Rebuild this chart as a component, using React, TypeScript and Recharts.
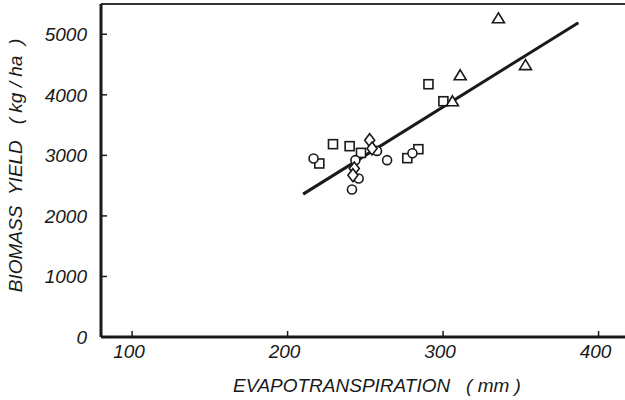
import React from 'react';
import { ScatterChart, Scatter, XAxis, YAxis, ReferenceLine, Label } from 'recharts';

const triangles = [
  { x: 335.6, y: 5264 },
  { x: 311, y: 4323 },
  { x: 353, y: 4490 },
  { x: 306, y: 3894 },
];
const squares = [
  { x: 290.6, y: 4175 },
  { x: 300.2, y: 3894 },
  { x: 229.2, y: 3185 },
  { x: 239.9, y: 3152 },
  { x: 220.4, y: 2866 },
  { x: 247.2, y: 3041 },
  { x: 277, y: 2954 },
  { x: 284.1, y: 3102 },
];
const circles = [
  { x: 216.7, y: 2949 },
  { x: 257.5, y: 3074 },
  { x: 243.6, y: 2921 },
  { x: 264, y: 2921 },
  { x: 245.7, y: 2619 },
  { x: 241.4, y: 2437 },
  { x: 280.3, y: 3036 },
];
const diamonds = [
  { x: 252.8, y: 3251 },
  { x: 254.3, y: 3113 },
  { x: 242.9, y: 2784 },
  { x: 242, y: 2673 },
];
const regression = [
  { x: 210, y: 2360 },
  { x: 387, y: 5190 },
];
const xTicks = [100, 200, 300, 400];
const yTicks = [0, 1000, 2000, 3000, 4000, 5000];

const NB = '\u00A0';
const xTitle = `EVAPOTRANSPIRATION${NB}${NB}${NB}(${NB}mm${NB})`;
const yTitle = `BIOMASS${NB}${NB}YIELD${NB}${NB}${NB}(${NB}kg${NB}/${NB}ha${NB}${NB})`;

const FONT = '"Liberation Sans", Arial, sans-serif';
const INK = '#1a1a1a';

const Tri = (p: any) => (
  <polygon
    points={`${p.cx},${p.cy - 5.5} ${p.cx - 6},${p.cy + 4.5} ${p.cx + 6},${p.cy + 4.5}`}
    fill="#fff" stroke={INK} strokeWidth={1.6}
  />
);
const Sq = (p: any) => (
  <rect x={p.cx - 4.5} y={p.cy - 4.5} width={9} height={9} fill="#fff" stroke={INK} strokeWidth={1.6} />
);
const Circ = (p: any) => (
  <circle cx={p.cx} cy={p.cy} r={4.5} fill="#fff" stroke={INK} strokeWidth={1.6} />
);
const Dia = (p: any) => (
  <polygon
    points={`${p.cx},${p.cy - 6.5} ${p.cx + 5},${p.cy} ${p.cx},${p.cy + 6.5} ${p.cx - 5},${p.cy}`}
    fill="#fff" stroke={INK} strokeWidth={1.6}
  />
);

const XTick = (props: any) => {
  const { x, y, payload } = props;
  return (
    <g>
      <line x1={x} x2={x} y1={y} y2={y - 6} stroke={INK} strokeWidth={1.5} />
      <text x={x - 3} y={y + 21} textAnchor="middle" fontFamily={FONT} fontStyle="italic" fontSize={19} fill={INK}>
        {payload.value}
      </text>
    </g>
  );
};
const YTick = (props: any) => {
  const { x, y, payload } = props;
  return (
    <g>
      <line x1={x} x2={x + 6} y1={y} y2={y} stroke={INK} strokeWidth={1.5} />
      <text x={x - 14} y={y + 7} textAnchor="end" fontFamily={FONT} fontStyle="italic" fontSize={19} fill={INK}>
        {payload.value}
      </text>
    </g>
  );
};

export default function App() {
  return (
    <div style={{ position: 'absolute', left: 0, top: 0, background: '#fff' }}>
      <ScatterChart width={625} height={400} margin={{ top: 4, right: 0, bottom: 0, left: 0 }}>
        <XAxis
          type="number" dataKey="x" domain={[80, 417]} ticks={xTicks} height={63}
          tickSize={0} tickMargin={0} tick={<XTick />} tickLine={false}
          axisLine={{ stroke: INK, strokeWidth: 3 }} allowDataOverflow
        >
          <Label
            value={xTitle} position="insideBottom" offset={8} dx={14}
            style={{ fontFamily: FONT, fontStyle: 'italic', fontSize: 19, fill: INK }}
          />
        </XAxis>
        <YAxis
          type="number" dataKey="y" domain={[0, 5500]} ticks={yTicks} width={101}
          tickSize={0} tickMargin={0} tick={<YTick />} tickLine={false}
          axisLine={{ stroke: INK, strokeWidth: 3 }} allowDataOverflow
        >
          <Label
            value={yTitle} angle={-90} position="insideLeft" offset={15} dy={-5}
            style={{ fontFamily: FONT, fontStyle: 'italic', fontSize: 19, fill: INK, textAnchor: 'middle' }}
          />
        </YAxis>
        <ReferenceLine y={5500} stroke="#333" strokeWidth={2} ifOverflow="extendDomain" />
        <ReferenceLine segment={regression} stroke={INK} strokeWidth={3} />
        <Scatter data={squares} shape={Sq} isAnimationActive={false} />
        <Scatter data={circles} shape={Circ} isAnimationActive={false} />
        <Scatter data={diamonds} shape={Dia} isAnimationActive={false} />
        <Scatter data={triangles} shape={Tri} isAnimationActive={false} />
      </ScatterChart>
    </div>
  );
}
